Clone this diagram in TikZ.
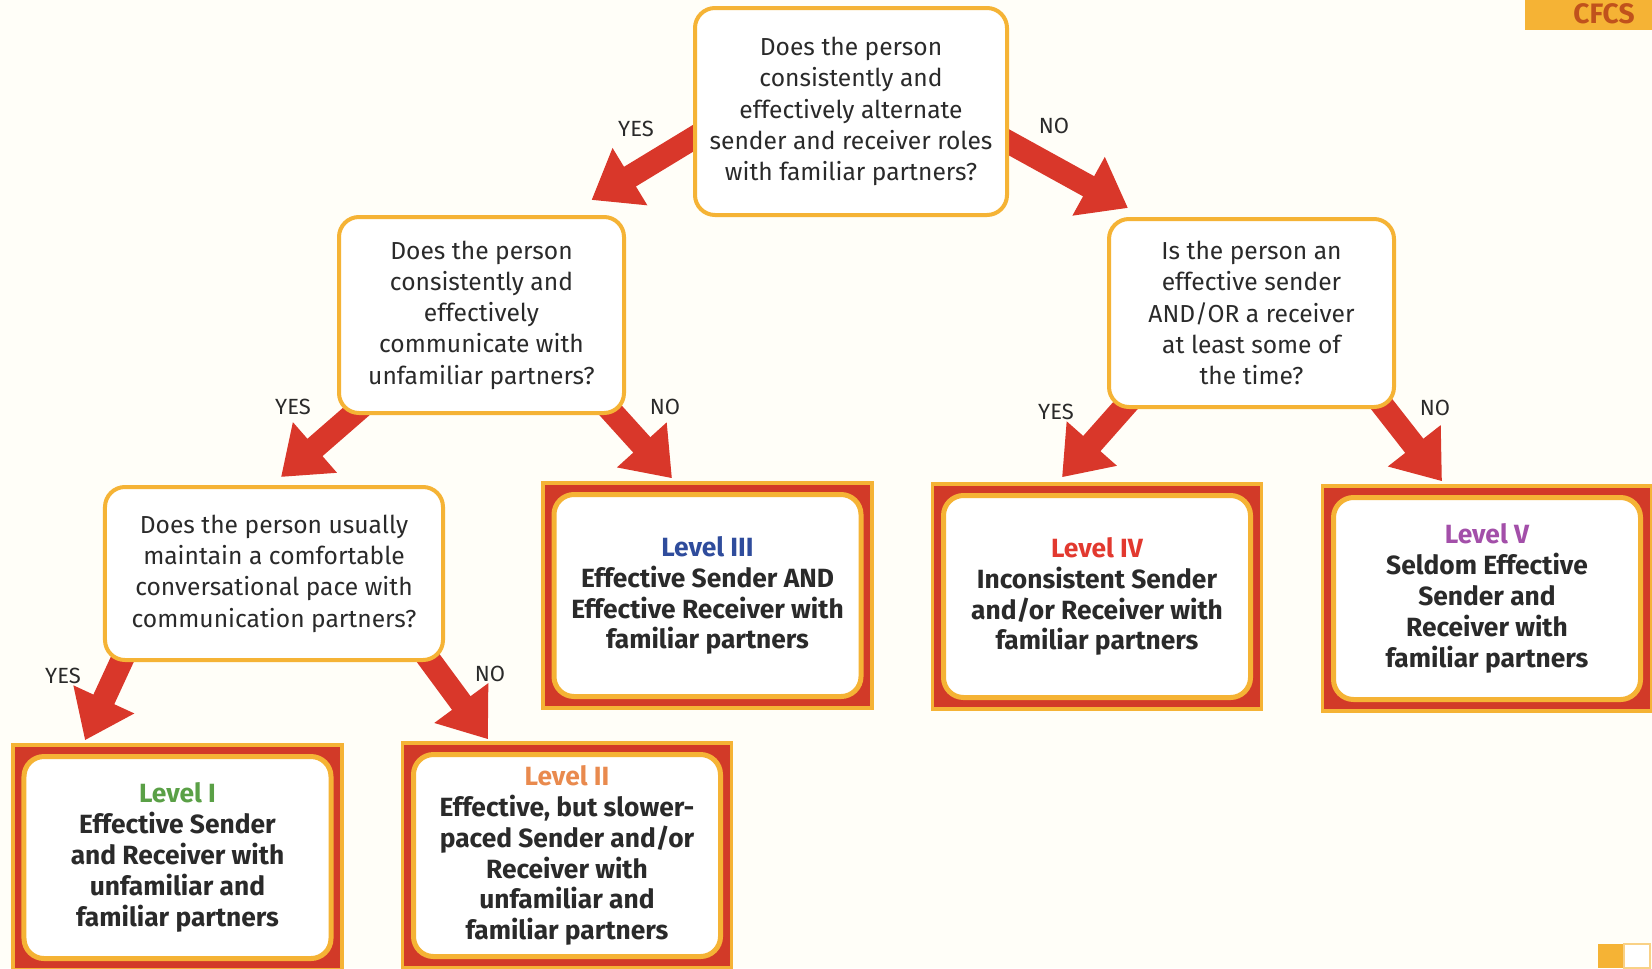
\documentclass[tikz,border=0pt]{standalone}
\usepackage{fontspec}
\setmainfont{Fira Sans}
\usepackage{tikz}
\usetikzlibrary{arrows.meta}
\usetikzlibrary{backgrounds}
\definecolor{cf-text}{HTML}{2A2A2A}
\definecolor{cf-orange}{HTML}{F5B335}
\definecolor{cf-red}{HTML}{D23A28}
\definecolor{cf-arrow}{HTML}{D9372A}
\definecolor{cf-bg}{HTML}{FFFEF8}
\definecolor{cf-tabtext}{HTML}{C0521C}
\definecolor{lv-one}{HTML}{5AA046}
\definecolor{lv-two}{HTML}{E98A4E}
\definecolor{lv-three}{HTML}{2F4C9C}
\definecolor{lv-four}{HTML}{E2392F}
\definecolor{lv-five}{HTML}{A34FA9}

\begin{document}
\begin{tikzpicture}[
    x=0.2mm, y=-0.2mm,
    qbox/.style={draw=cf-orange, fill=white, line width=0.8mm, rounded corners=4mm,
                 align=center, text=cf-text, font=\fontsize{14}{17.8}\selectfont},
    lvframe/.style={draw=cf-orange, fill=cf-red, line width=0.7mm,
                    minimum width=65.8mm, minimum height=45mm},
    lvbox/.style={draw=cf-orange, fill=white, line width=1mm, rounded corners=4mm,
                  minimum width=61.4mm, minimum height=40.4mm, align=center,
                  text=cf-text, font=\fontsize{15}{17.6}\selectfont\bfseries},
    flow/.style={draw=cf-arrow, line width=4.6mm, -{Triangle[length=9mm, width=12.8mm]}},
    yn/.style={font=\fontsize{12.5}{14}\selectfont, text=cf-text}
]
\path[use as bounding box] (0,0) rectangle (1652,968);
\begin{scope}[on background layer]
\fill[cf-bg] (0,0) rectangle (1652,968);
\end{scope}

% =========================================================================
% QUESTIONS
% =========================================================================
\node[qbox, minimum width=62.4mm, minimum height=41.4mm] (q1) at (851,111.5)
    {Does the person\\consistently and\\effectively alternate\\sender and receiver roles\\with familiar partners?};
\node[qbox, minimum width=57mm, minimum height=39.2mm] (q2) at (481.5,315)
    {Does the person\\consistently and\\effectively\\communicate with\\unfamiliar partners?};
\node[qbox, minimum width=57mm, minimum height=37.6mm] (q3) at (1251.5,313)
    {Is the person an\\effective sender\\AND/OR a receiver\\at least some of\\the time?};
\node[qbox, minimum width=67.6mm, minimum height=34.6mm] (q4) at (274,573.5)
    {Does the person usually\\maintain a comfortable\\conversational pace with\\communication partners?};

% =========================================================================
% LEVELS
% =========================================================================
\node[lvframe] (lv1) at (177.5,857.5) {};
\node[lvbox] (lv1in) at (177.5,857.5)
    {{\color{lv-one}Level I}\\Effective Sender\\and Receiver with\\unfamiliar and\\familiar partners};
\node[lvframe] (lv2) at (567,855.5) {};
\node[lvbox] (lv2in) at (567,855.5)
    {{\color{lv-two}Level II}\\Effective, but slower-\\paced Sender and/or\\Receiver with\\unfamiliar and\\familiar partners};
\node[lvframe] (lv3) at (707.5,595.5) {};
\node[lvbox] (lv3in) at (707.5,595.5)
    {{\color{lv-three}Level III}\\Effective Sender AND\\Effective Receiver with\\familiar partners};
\node[lvframe] (lv4) at (1097,596.5) {};
\node[lvbox] (lv4in) at (1097,596.5)
    {{\color{lv-four}Level IV}\\Inconsistent Sender\\and/or Receiver with\\familiar partners};
\node[lvframe] (lv5) at (1487,598.5) {};
\node[lvbox] (lv5in) at (1487,598.5)
    {{\color{lv-five}Level V}\\Seldom Effective\\Sender and\\Receiver with\\familiar partners};

% =========================================================================
% ARROWS (behind the boxes)
% =========================================================================
\begin{scope}[on background layer]
\draw[flow] ([xshift=3.4mm, yshift=-3.3mm]q1.west) -- ([xshift=22mm, yshift=3mm]q2.north);
\draw[flow] ([xshift=-3.4mm, yshift=-4.3mm]q1.east) -- ([xshift=-24.7mm, yshift=1.8mm]q3.north);
\draw[flow] ([xshift=5.8mm, yshift=2.4mm]q2.south west) -- ([xshift=1.4mm, yshift=1.6mm]q4.north);
\draw[flow] ([xshift=-4.6mm, yshift=2.6mm]q2.south east) -- ([xshift=-7.1mm, yshift=0.6mm]lv3.north);
\draw[flow] ([xshift=5.2mm, yshift=2.4mm]q3.south west) -- ([xshift=-7mm, yshift=1mm]lv4.north);
\draw[flow] ([xshift=-3.2mm, yshift=1.4mm]q3.south east) -- ([xshift=-9mm, yshift=0.6mm]lv5.north);
\draw[flow] ([xshift=5mm, yshift=3mm]q4.south west) -- ([xshift=-18.5mm, yshift=0.6mm]lv1.north);
\draw[flow] ([xshift=-5mm, yshift=3mm]q4.south east) -- ([xshift=-15.8mm, yshift=0.4mm]lv2.north);
\end{scope}

% YES / NO
\node[yn] (y1) at (636,129) {YES};
\node[yn] (n1) at (1054,126) {NO};
\node[yn] (y2) at (293,407) {YES};
\node[yn] (n2) at (665,407) {NO};
\node[yn] (y3) at (1056,412) {YES};
\node[yn] (n3) at (1435,408) {NO};
\node[yn] (y4) at (63,676) {YES};
\node[yn] (n4) at (490,674) {NO};

% =========================================================================
% CORNER MARKS
% =========================================================================
\node[fill=cf-orange, minimum width=25.4mm, minimum height=8mm, inner sep=0pt] (tab) at (1588.5,10) {};
\node[anchor=base, font=\fontsize{16}{18}\selectfont\bfseries, text=cf-tabtext] (tabtxt) at (1604,23) {CFCS};
\fill[cf-orange] (1598,944) rectangle (1624,968);
\draw[cf-orange!60, fill=white, line width=0.4mm] (1624,944) rectangle (1650,968);

\end{tikzpicture}
\end{document}
